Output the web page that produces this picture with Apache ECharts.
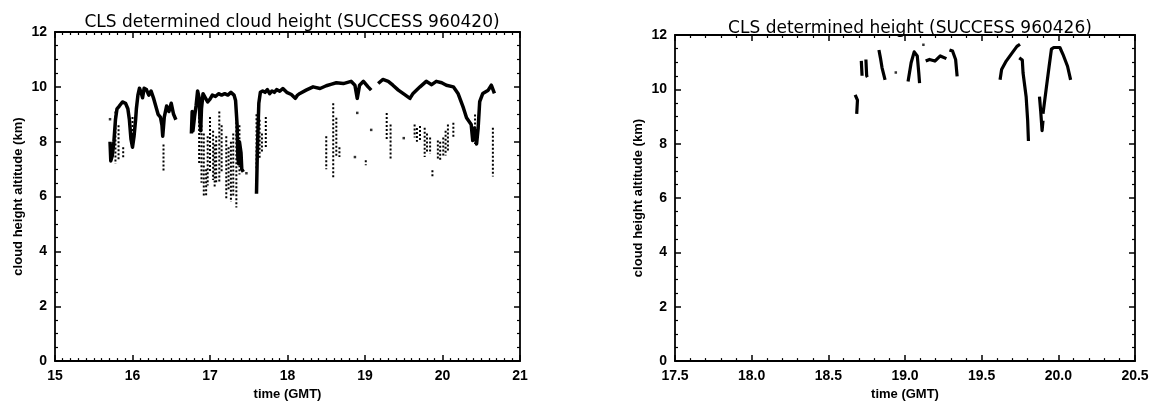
<!DOCTYPE html>
<html><head><meta charset="utf-8">
<script src="https://cdn.jsdelivr.net/npm/echarts@6/dist/echarts.min.js"></script>
<style>html,body{margin:0;padding:0;background:#fff}#c{width:1154px;height:406px}</style>
</head><body><div id="c"></div>
<script>
// ---------- text ----------
const leftTitle = 'CLS determined cloud height (SUCCESS 960420)';
const rightTitle = 'CLS determined height (SUCCESS 960426)';
const xName = 'time (GMT)';
const yName = 'cloud height altitude (km)';

// ---------- left panel (960420): thick line, null = gap ----------
const leftLineT = [15.71,15.72,15.74,15.76,15.78,15.80,15.83,15.87,15.91,15.94,15.96,15.98,16.00,16.02,16.04,16.05,16.07,16.09,16.11,16.13,16.15,16.18,16.21,16.24,16.27,16.30,16.33,16.36,16.38,16.39,16.41,16.44,16.47,16.50,16.53,16.56,16.60,
  16.76,16.77,16.78,16.80,16.82,16.84,16.86,16.87,16.88,16.89,16.91,16.94,16.97,17.00,17.03,17.07,17.11,17.15,17.19,17.23,17.27,17.31,17.33,17.35,17.36,17.37,17.38,17.40,17.41,17.43,17.45,
  17.60,17.61,17.62,17.63,17.65,17.68,17.71,17.74,17.77,17.80,17.83,17.86,17.90,17.94,17.99,18.05,18.10,18.13,18.16,18.24,18.33,18.42,18.50,18.57,18.63,18.72,18.82,18.87,18.90,18.93,18.98,19.04,19.08,19.12,
  19.17,19.23,19.30,19.36,19.43,19.49,19.58,19.62,19.71,19.79,19.86,19.92,19.99,20.05,20.14,20.20,20.27,20.31,20.37,20.39,20.41,20.44,20.46,20.48,20.52,20.59,20.63,20.67];
const leftLineH = [8.0,7.3,7.5,8.0,8.8,9.2,9.3,9.45,9.4,9.2,8.8,8.1,7.8,8.2,8.8,9.2,9.7,9.95,9.8,9.6,9.95,9.9,9.7,9.85,9.6,9.3,9.0,8.9,8.6,8.2,8.9,9.3,9.1,9.4,9.0,8.8,null,
  8.3,9.1,8.4,8.9,9.3,9.85,9.6,8.8,8.4,9.2,9.75,9.6,9.45,9.55,9.7,9.65,9.75,9.7,9.75,9.7,9.8,9.7,9.5,8.6,7.4,7.2,8.0,7.6,7.0,6.9,null,
  6.1,7.5,8.5,9.4,9.8,9.85,9.8,9.9,9.75,9.85,9.8,9.9,9.84,9.94,9.8,9.72,9.58,9.7,9.76,9.88,10.0,9.94,10.04,10.1,10.15,10.12,10.2,10.06,9.58,10.06,10.2,10.0,9.88,null,
  10.12,10.27,10.2,10.06,9.88,9.76,9.58,9.76,10.0,10.2,10.08,10.2,10.15,10.06,10.0,9.76,9.23,8.87,8.63,8.04,8.5,7.92,8.5,9.46,9.76,9.88,10.06,9.76];

// left panel: dotted columns (time, top, bottom)
const leftDotT   = [15.78,15.82,15.88,16.00,16.40,16.86,16.89,16.92,16.95,16.97,17.00,17.04,17.06,17.08,17.12,17.15,17.21,17.24,17.27,17.30,17.34,17.38,17.60,17.64,17.67,17.72,
  18.50,18.59,18.63,18.67,19.01,19.28,19.33,19.64,19.67,19.71,19.77,19.80,19.84,19.87,19.94,19.97,20.01,20.04,20.07,20.14,20.42,20.65];
const leftDotTop = [9.1,8.6,7.8,8.9,7.9,8.9,8.6,8.3,7.0,8.2,8.9,8.4,7.9,8.2,9.1,8.6,8.2,7.8,8.0,8.3,9.0,8.6,9.0,8.8,8.3,8.9,
  8.2,9.4,8.87,7.8,7.32,9.05,8.63,8.63,8.5,8.57,8.51,8.3,8.15,6.96,8.04,8.0,8.15,8.4,8.63,8.69,8.99,8.51];
const leftDotBot = [7.2,7.3,7.4,7.9,6.9,7.2,6.5,6.0,6.0,6.4,6.9,6.6,6.3,6.5,6.5,6.9,5.9,6.2,5.8,6.0,5.6,6.8,7.0,7.4,7.6,7.8,
  7.0,6.7,7.44,7.44,7.14,8.04,7.38,8.15,8.0,8.04,7.44,7.6,7.56,6.73,7.32,7.3,7.44,7.5,7.68,8.15,7.92,6.73];
// left panel: isolated dots
const leftSpotT = [15.71,17.47,18.87,18.90,19.08,19.50];
const leftSpotH = [8.82,6.85,7.44,9.05,8.43,8.13];

// ---------- right panel (960426) ----------
const rightLineT = [18.675,18.69,18.685,null,
  18.715,18.72,null,18.745,18.75,18.755,null,
  18.83,18.84,18.85,18.87,null,
  19.02,19.04,19.06,19.08,19.09,19.095,null,
  19.135,19.16,19.195,19.23,19.27,null,
  19.29,19.31,19.33,19.34,null,
  19.62,19.63,19.66,19.70,19.73,19.75,null,
  19.745,19.765,19.77,19.79,19.80,19.805,null,
  19.877,19.885,19.894,19.90,null,
  19.90,19.92,19.94,19.955,19.97,20.01,20.03,20.06,20.075,20.08];
const rightLineH = [9.8,9.6,9.1,null,
  11.05,10.5,null,11.1,10.5,10.45,null,
  11.45,11.15,10.8,10.35,null,
  10.29,10.98,11.38,11.23,10.6,10.23,null,
  11.04,11.1,11.04,11.23,11.13,null,
  11.45,11.41,11.1,10.48,null,
  10.35,10.73,11.04,11.35,11.58,11.66,null,
  11.16,11.08,10.6,9.73,8.85,8.1,null,
  9.73,9.2,8.48,8.85,null,
  9.1,9.98,10.85,11.48,11.54,11.54,11.29,10.85,10.48,10.35];
const rightSpotT = [18.94,19.12];
const rightSpotH = [10.62,11.64];

// ---------- tick settings ----------
const leftX = {min:15, max:21, interval:1, minor:10, dec:0};
const rightX = {min:17.5, max:20.5, interval:0.5, minor:5, dec:1};
const yRange = {min:0, max:12, interval:2, minor:4};

// ---------- build ----------
const pairs = (ts, hs) => ts.map((t, i) => (t === null || hs[i] === null) ? [t === null ? NaN : t, null] : [t, hs[i]]);
const dotPairs = [];
leftDotT.forEach((t, i) => { dotPairs.push([t, leftDotTop[i]], [t, leftDotBot[i]], [t, null]); });

const FONT = 'Liberation Sans, Arial, sans-serif';
const lblStyle = {color:'#000', fontSize:14, fontWeight:'bold', fontFamily:FONT};
const axisBase = (grid, r, pos, show, dec, extra) => Object.assign({
  type:'value', gridIndex:grid, min:r.min, max:r.max, interval:r.interval, position:pos,
  axisLine:{show:true, onZero:false, lineStyle:{color:'#000', width:1.8}},
  axisTick:{show:true, inside:true, length:6, lineStyle:{color:'#000', width:1.5}},
  minorTick:{show:true, splitNumber:r.minor, length:3, lineStyle:{color:'#000', width:1.2}},
  splitLine:{show:false}, minorSplitLine:{show:false},
  axisLabel:Object.assign({show:show, margin:8, showMinLabel:true, showMaxLabel:true,
    formatter:v => Number(v).toFixed(dec)}, lblStyle)
}, extra || {});

const xName0 = {name:xName, nameLocation:'middle', nameGap:23, nameTextStyle:{color:'#000', fontSize:13, fontFamily:FONT, fontWeight:'bold'}};
const yName0 = {name:yName, nameLocation:'middle', nameGap:30, nameRotate:90, nameTextStyle:{color:'#000', fontSize:13, fontFamily:FONT, fontWeight:'bold'}};

const option = {
  animation:false,
  backgroundColor:'#fff',
  title:[
    {text:leftTitle, left:287, top:9, textAlign:'center', textStyle:{fontFamily:'DejaVu Sans', fontSize:17, fontWeight:'normal', color:'#000'}},
    {text:rightTitle, left:905, top:15, textAlign:'center', textStyle:{fontFamily:'DejaVu Sans', fontSize:17, fontWeight:'normal', color:'#000'}}
  ],
  grid:[
    {left:55, right:634, top:32, bottom:41},
    {left:675, right:19, top:35, bottom:44}
  ],
  xAxis:[
    axisBase(0, leftX, 'bottom', true, leftX.dec, xName0),
    axisBase(0, leftX, 'top', false, 0),
    axisBase(1, rightX, 'bottom', true, rightX.dec, xName0),
    axisBase(1, rightX, 'top', false, 0)
  ],
  yAxis:[
    axisBase(0, yRange, 'left', true, 0, yName0),
    axisBase(0, yRange, 'right', false, 0),
    axisBase(1, yRange, 'left', true, 0, yName0),
    axisBase(1, yRange, 'right', false, 0)
  ],
  series:[
    {type:'line', xAxisIndex:0, yAxisIndex:0, data:dotPairs, showSymbol:false, connectNulls:false,
      lineStyle:{color:'#000', width:2, type:[2,2]}},
    {type:'line', xAxisIndex:0, yAxisIndex:0, data:pairs(leftLineT, leftLineH), showSymbol:false, connectNulls:false,
      lineStyle:{color:'#000', width:3.5, join:'round'}},
    {type:'scatter', xAxisIndex:0, yAxisIndex:0, data:pairs(leftSpotT, leftSpotH), symbol:'rect', symbolSize:2.5, itemStyle:{color:'#000'}},
    {type:'line', xAxisIndex:2, yAxisIndex:2, data:pairs(rightLineT, rightLineH), showSymbol:false, connectNulls:false,
      lineStyle:{color:'#000', width:3.2, join:'round'}},
    {type:'scatter', xAxisIndex:2, yAxisIndex:2, data:pairs(rightSpotT, rightSpotH), symbol:'rect', symbolSize:2.5, itemStyle:{color:'#000'}}
  ]
};
const chart = echarts.init(document.getElementById('c'), null, {renderer:'canvas'});
chart.setOption(option);
</script>
</body></html>
